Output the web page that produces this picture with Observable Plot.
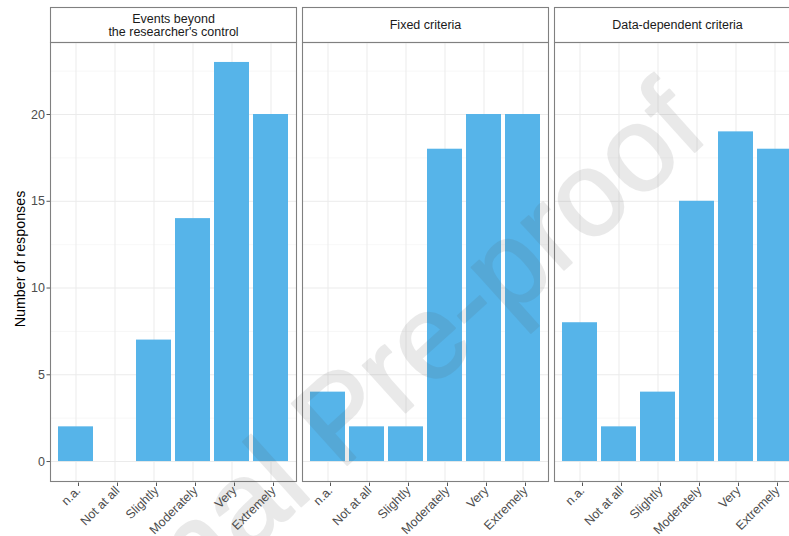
<!DOCTYPE html>
<html>
<head>
<meta charset="utf-8">
<script src="https://cdn.jsdelivr.net/npm/d3@7"></script>
<script src="https://cdn.jsdelivr.net/npm/@observablehq/plot@0.6"></script>
<style>
  html, body { margin: 0; padding: 0; background: #fff; overflow: hidden; }
  #chart { width: 789px; height: 536px; overflow: hidden; position: relative; }
</style>
</head>
<body>
<div id="chart"></div>
<script>
// ---- data ----
const categories = ["n.a.", "Not at all", "Slightly", "Moderately", "Very", "Extremely"];
const facets = ["Events beyond\nthe researcher's control", "Fixed criteria", "Data-dependent criteria"];
const eventsBeyond = [2, 0, 7, 14, 23, 20];
const fixedCriteria = [4, 2, 2, 18, 20, 20];
const dataDependent = [8, 2, 4, 15, 19, 18];
const yTicks = [0, 5, 10, 15, 20];
const yMinorTicks = [2.5, 7.5, 12.5, 17.5, 22.5];
const yTitle = "Number of responses";
const watermark = "Journal Pre-proof";

const series = [eventsBeyond, fixedCriteria, dataDependent];
const rows = [];
series.forEach((vals, i) => vals.forEach((v, j) => rows.push({facet: facets[i], category: categories[j], n: v})));

const font = "'Liberation Sans', Arial, Helvetica, sans-serif";
const yMax = d3.max(rows, d => d.n);
const pad = yMax * 0.05;

const plot = Plot.plot({
  width: 810,
  height: 536,
  marginTop: 42,
  marginBottom: 55,
  marginLeft: 49,
  marginRight: 9,
  style: {fontFamily: font, maxWidth: "none", background: "white"},
  fx: {domain: facets, paddingInner: 0.0257, paddingOuter: 0, axis: null, label: null},
  x: {domain: categories, paddingInner: 0.1, paddingOuter: 0.15, align: 0.5, axis: null, label: null},
  y: {domain: [-pad, yMax + pad], axis: null, label: null},
  marks: [
    // strip boxes
    Plot.frame({insetTop: -35, insetBottom: 439, stroke: "#808080", strokeWidth: 1.1, fill: "white"}),
    Plot.ruleY(yMinorTicks, {stroke: "#f3f3f3", strokeWidth: 0.7}),
    Plot.ruleY(yTicks, {stroke: "#ebebeb", strokeWidth: 1}),
    Plot.ruleX(categories, {x: d => d, stroke: "#ebebeb", strokeWidth: 1}),
    Plot.barY(rows.filter(d => d.n > 0), {fx: "facet", x: "category", y: "n", fill: "#56B4E9"}),
    Plot.frame({stroke: "#808080", strokeWidth: 1.1}),
    Plot.text(facets, {fx: d => d, text: d => d, frameAnchor: "top", dy: -17.5, lineAnchor: "middle",
      fontSize: 12.5, fill: "#1a1a1a", lineHeight: 1.1}),
    Plot.axisY(yTicks, {tickSize: 3.5, tickPadding: 2, fontSize: 12.5, fill: "#4d4d4d", stroke: "#555", label: null}),
    Plot.text([yTitle], {fx: () => facets[0], text: d => d, frameAnchor: "left", rotate: -90, dx: -30, dy: -3,
      fontSize: 14.3, fill: "#000", textAnchor: "middle", lineAnchor: "middle"}),
    Plot.axisX({tickRotate: -45, tickSize: 3.5, tickPadding: 2, fontSize: 12.5, fill: "#4d4d4d", stroke: "#555",
      textAnchor: "end", label: null, dx: 2.5, dy: 1.5})
  ]
});

document.getElementById("chart").appendChild(plot);

// watermark overlay
d3.select(plot).append("text")
  .attr("transform", "translate(367,447) rotate(-42)")
  .attr("text-anchor", "middle")
  .attr("font-family", font)
  .attr("font-size", 120)
  .attr("fill", "#555")
  .attr("stroke", "#555")
  .attr("stroke-width", 2)
  .attr("stroke-linejoin", "round")
  .attr("opacity", 0.12)
  .text(watermark);
</script>
</body>
</html>
